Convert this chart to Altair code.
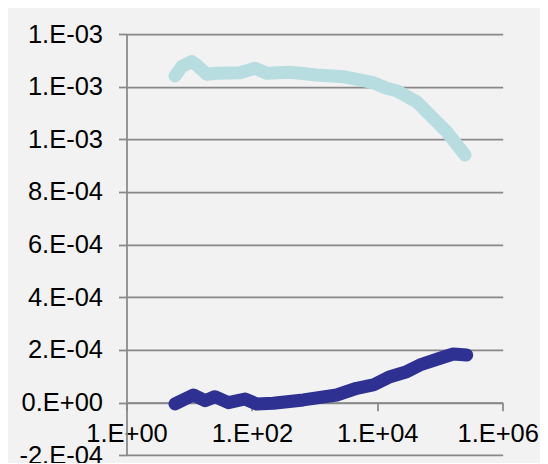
import altair as alt
import pandas as pd

# Series 1 (light cyan)
s1_x = [5.94, 7.59, 10.96, 13.2, 19.0, 27.5, 64.6, 112, 172, 406, 1079, 2871,
        8630, 14130, 20370, 42460, 78160, 127900, 250600]
s1_y = [1.2406e-3, 1.2759e-3, 1.2949e-3, 1.2823e-3, 1.2470e-3, 1.2508e-3,
        1.2531e-3, 1.2698e-3, 1.2508e-3, 1.2546e-3, 1.2444e-3, 1.2379e-3,
        1.2151e-3, 1.1938e-3, 1.1847e-3, 1.1430e-3, 1.0799e-3, 1.0291e-3,
        0.9406e-3]

# Series 2 (dark blue)
s2_x = [5.94, 11.6, 17.9, 25.8, 42.1, 77.6, 119, 219, 661, 2250, 4690, 8630,
        15960, 29440, 47970, 100000, 162900, 266700]
s2_y = [-4.9e-6, 2.92e-5, 7.6e-6, 2.28e-5, 0.0, 1.40e-5, -4.9e-6, -2.3e-6,
        1.03e-5, 2.92e-5, 5.47e-5, 6.72e-5, 9.87e-5, 1.177e-4, 1.432e-4,
        1.686e-4, 1.849e-4, 1.811e-4]

series_names = ["A", "B"]
series_colors = ["#b7dde0", "#2e3192"]

x_ticks = [1, 100, 10000, 1000000]
x_tick_labels = ["1.E+00", "1.E+02", "1.E+04", "1.E+06"]
y_ticks = [-0.0002, 0.0, 0.0002, 0.0004, 0.0006, 0.0008, 0.0010, 0.0012, 0.0014]
y_tick_labels = ["-2.E-04", "0.E+00", "2.E-04", "4.E-04", "6.E-04", "8.E-04",
                 "1.E-03", "1.E-03", "1.E-03"]

df = pd.concat([
    pd.DataFrame({"x": s1_x, "y": s1_y, "s": series_names[0]}),
    pd.DataFrame({"x": s2_x, "y": s2_y, "s": series_names[1]}),
])

H = 421.33
W = 376.2

x_label_expr = "[" + ",".join(f"'{t}'" for t in x_tick_labels) + "][round(log(datum.value)/log(10)/2)]"
y_label_expr = "[" + ",".join(f"'{t}'" for t in y_tick_labels) + "][round(datum.value*10000/2)+1]"

font = "Liberation Sans"
gray = "#888888"

chart = alt.Chart(df).mark_line(
    strokeWidth=13, strokeCap="round", strokeJoin="round"
).encode(
    x=alt.X("x:Q", scale=alt.Scale(type="log", domain=[1, 1000000], nice=False),
            axis=alt.Axis(values=x_ticks, labelExpr=x_label_expr, title=None,
                          grid=False, offset=-H / 8, tickSize=8,
                          labelPadding=11, labelFlush=False, labelOverlap=False,
                          labelBound=False, domainColor=gray, tickColor=gray,
                          domainWidth=1.75, tickWidth=1.75,
                          labelOffset={"condition": {"test": "datum.value > 500000", "value": -5},
                                       "value": 0},
                          labelFont=font, labelFontSize=25.5, labelColor="black")),
    y=alt.Y("y:Q", scale=alt.Scale(domain=[-0.0002, 0.0014], nice=False, zero=False),
            axis=alt.Axis(values=y_ticks, labelExpr=y_label_expr, title=None,
                          grid=True, gridColor=gray, gridWidth=1.75, tickSize=8,
                          labelPadding=16, labelFlush=False, labelOverlap=False,
                          labelBound=False, domainColor=gray, tickColor=gray,
                          domainWidth=1.75, tickWidth=1.75,
                          labelFont=font, labelFontSize=25.5, labelColor="black")),
    color=alt.Color("s:N", scale=alt.Scale(domain=series_names, range=series_colors),
                    legend=None),
).properties(
    width=W, height=H,
    background="#f2f2f2",
    autosize=alt.AutoSizeParams(type="none"),
    padding={"left": 118.5, "top": 26, "right": 37, "bottom": 8},
).configure_view(stroke=None, fill="#f2f2f2")

chart.save("out.html", embed_options={"renderer": "svg", "actions": False})
